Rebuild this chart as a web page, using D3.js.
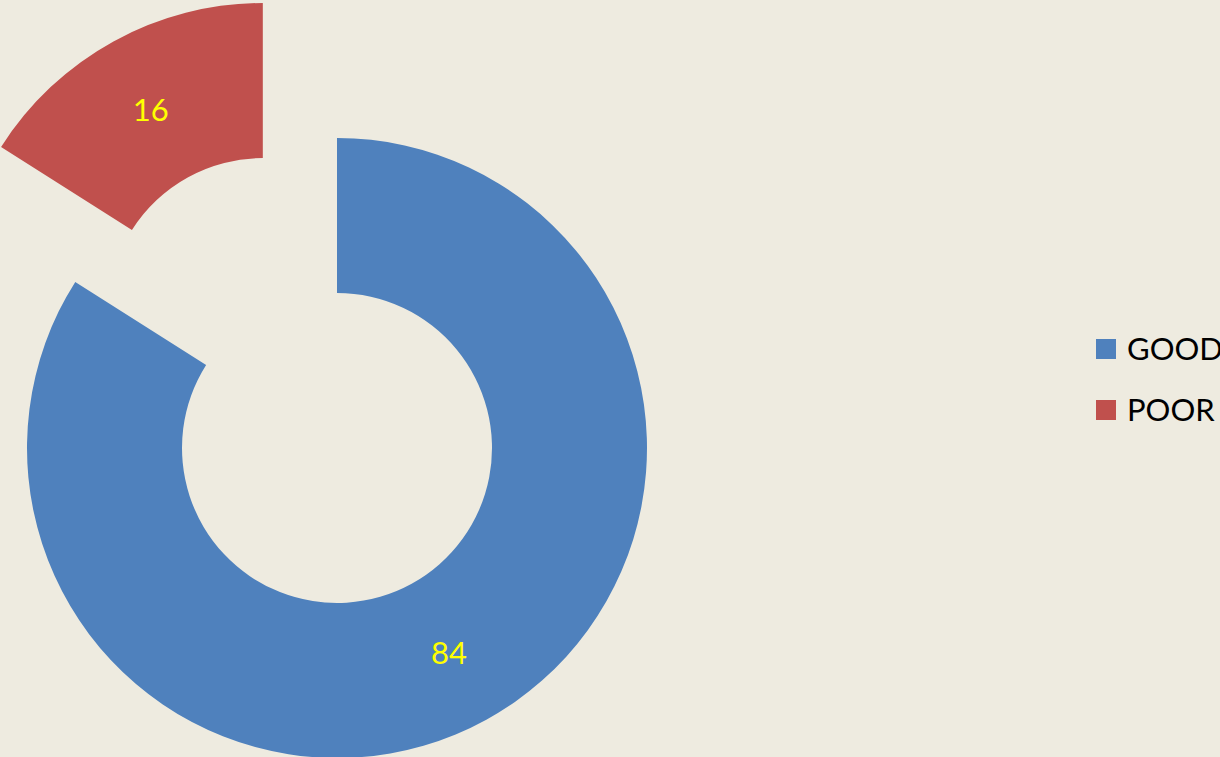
<!DOCTYPE html>
<html>
<head>
<meta charset="utf-8">
<script src="https://cdn.jsdelivr.net/npm/d3@7"></script>
<style>
  html, body { margin: 0; padding: 0; background: #EEEBE0; overflow: hidden; }
  svg { display: block; }
</style>
</head>
<body>
<svg id="chart" width="1220" height="757"></svg>
<script>
const categories = ["GOOD", "POOR"];
const values = [84, 16];
const colors = ["#4F81BD", "#C0504D"];
const exploded = [false, true];

const W = 1220, H = 757;
const cx = 337, cy = 448;
const outerR = 310, innerR = 155;
const explodeDist = 154;

const svg = d3.select("#chart");
svg.append("rect").attr("width", W).attr("height", H).attr("fill", "#EEEBE0");

const pie = d3.pie().sort(null).value(d => d.value).startAngle(0).endAngle(2 * Math.PI);
const arc = d3.arc().innerRadius(innerR).outerRadius(outerR);

const data = categories.map((c, i) => ({ name: c, value: values[i], color: colors[i], explode: exploded[i] }));
const arcs = pie(data);

const g = svg.append("g").attr("transform", `translate(${cx},${cy})`);

const slices = g.selectAll("g.slice").data(arcs).join("g")
  .attr("class", "slice")
  .attr("transform", d => {
    if (!d.data.explode) return null;
    const mid = (d.startAngle + d.endAngle) / 2;
    return `translate(${Math.sin(mid) * explodeDist},${-Math.cos(mid) * explodeDist})`;
  });

slices.append("path")
  .attr("d", arc)
  .attr("fill", d => d.data.color);

slices.append("text")
  .attr("x", d => arc.centroid(d)[0])
  .attr("y", d => arc.centroid(d)[1] + 12)
  .attr("text-anchor", "middle")
  .attr("font-family", "Lato, 'Noto Sans', sans-serif")
  .attr("font-size", 31)
  .attr("fill", "#FFFF00")
  .text(d => d.data.value);

// Legend (text runs past the right edge, as in the reference)
const legend = svg.append("g").attr("transform", "translate(1096,339)");
const items = legend.selectAll("g").data(data).join("g")
  .attr("transform", (d, i) => `translate(0,${i * 61})`);
items.append("rect").attr("width", 20).attr("height", 20).attr("fill", d => d.color);
items.append("text")
  .attr("x", 31).attr("y", 21)
  .attr("font-family", "Lato, 'Noto Sans', sans-serif")
  .attr("font-size", 31)
  .attr("fill", "#000")
  .text(d => d.name);
</script>
</body>
</html>
